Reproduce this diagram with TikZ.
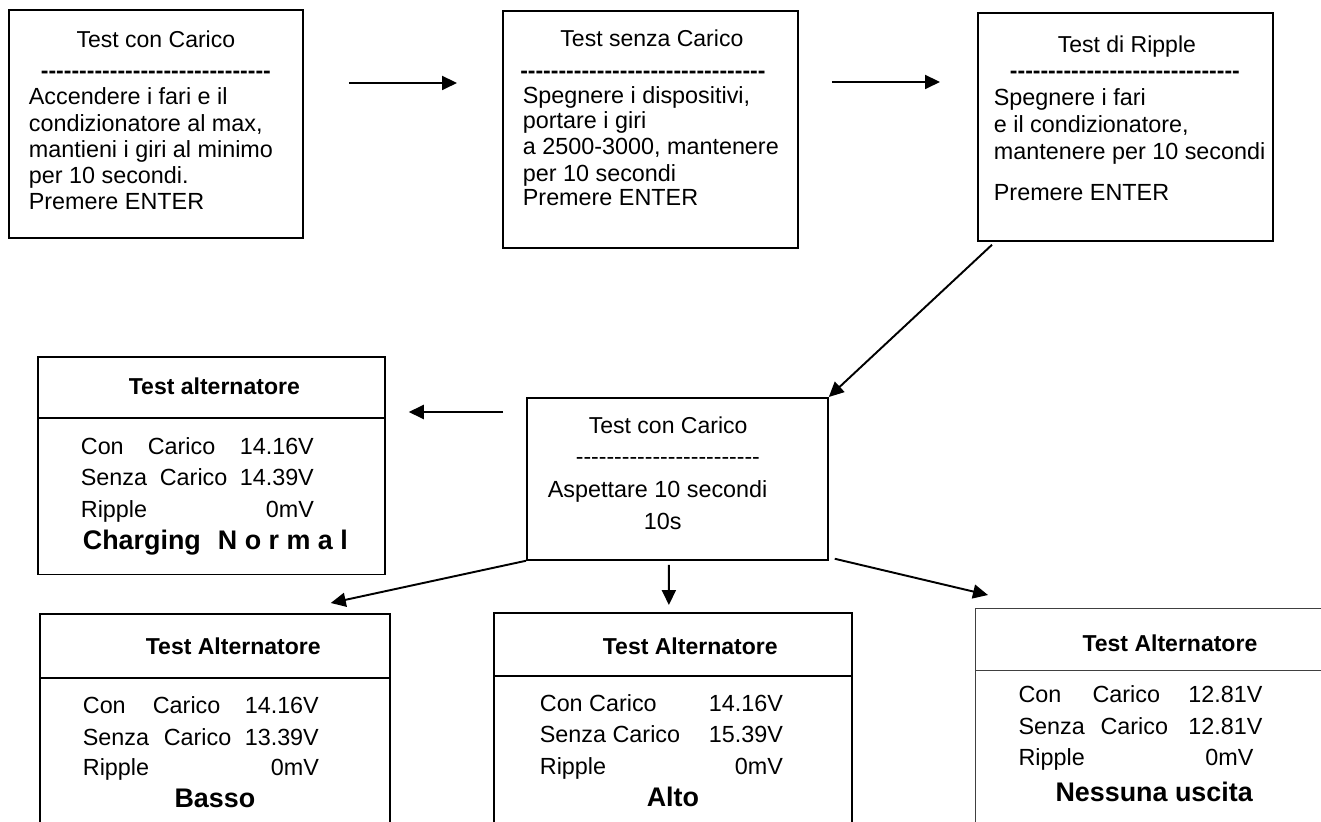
\documentclass[tikz,border=0pt]{standalone}
\usepackage{fontspec}
\setmainfont{Liberation Sans}
\usetikzlibrary{arrows.meta,shapes.multipart}
\newdimen\px \px=0.02cm
\newcommand\fbody{\fontsize{13.3}{15}\selectfont}
\newcommand\fhead{\fontsize{13.1}{15}\selectfont}
\newcommand\fbig{\fontsize{15.3}{18}\selectfont\bfseries}
\newcommand\dashes[1]{\foreach\dd in {1,...,#1}{-\kern0pt}}
\newcommand\txl[3]{\rlap{\hspace*{#1}\raisebox{-#2}[0pt][0pt]{#3}}\ignorespaces}
\newcommand\txc[3]{\rlap{\hspace*{#1}\raisebox{-#2}[0pt][0pt]{\makebox[0pt][c]{#3}}}\ignorespaces}
\newcommand\txr[3]{\rlap{\hspace*{#1}\raisebox{-#2}[0pt][0pt]{\llap{#3}}}\ignorespaces}
\newcommand\cardpart[3]{\makebox[#1][l]{\fbody\rule[-#2]{0pt}{#2}\ignorespaces#3}}
\tikzset{
  card/.style={draw, line width=1pt, inner sep=0pt, anchor=north west, font=\fbody},
  panel/.style={card, rectangle split, rectangle split parts=2},
  thinpanel/.style={panel, line width=0.6pt, draw=black!75},
  flow/.style={line width=1.1pt, -{Triangle[length=0.3cm,width=0.28cm]}},
}
\begin{document}
\begin{tikzpicture}[x=0.02cm,y=-0.02cm]
\path[use as bounding box] (0,0) rectangle (1321,821);
\clip (0,0) rectangle (1321,821);
% top row
\node[card] (carico) at (8,9) {\cardpart{294\px}{228\px}{%
  \txc{147\px}{38\px}{\fhead Test con Carico}
  \txc{147\px}{68.5\px}{\fhead\bfseries\dashes{30}}
  \txl{20\px}{95\px}{Accendere i fari e il}
  \txl{20\px}{122\px}{condizionatore al max,}
  \txl{20\px}{148\px}{mantieni i giri al minimo}
  \txl{20\px}{174\px}{per 10 secondi.}
  \txl{20\px}{200\px}{Premere ENTER}}};
\node[card] (senza) at (502,10) {\cardpart{295\px}{237\px}{%
  \txc{149\px}{36\px}{\fhead Test senza Carico}
  \txc{140\px}{67.5\px}{\fhead\bfseries\dashes{32}}
  \txl{20\px}{93\px}{Spegnere i dispositivi,}
  \txl{20\px}{118\px}{portare i giri}
  \txl{20\px}{144\px}{a 2500-3000, mantenere}
  \txl{20\px}{171\px}{per 10 secondi}
  \txl{20\px}{195\px}{Premere ENTER}}};
\node[card] (ripple) at (977,12) {\cardpart{295\px}{228\px}{%
  \txc{149\px}{40\px}{\fhead Test di Ripple}
  \txc{147\px}{66\px}{\fhead\bfseries\dashes{30}}
  \txl{16\px}{93\px}{Spegnere i fari}
  \txl{16\px}{120\px}{e il condizionatore,}
  \txl{16\px}{147\px}{mantenere per 10 secondi}
  \txl{16\px}{188\px}{Premere ENTER}}};
% waiting step
\node[card] (wait) at (526,397) {\cardpart{301\px}{162\px}{%
  \txl{62\px}{36\px}{\fhead Test con Carico}
  \txl{49\px}{67\px}{\fhead\dashes{24}}
  \txl{21\px}{100\px}{Aspettare 10 secondi}
  \txl{117\px}{132\px}{10s}}};
% results
\node[panel] (normal) at (37,356) {\cardpart{347\px}{59\px}{%
  \txl{91\px}{37\px}{\fhead\bfseries Test alternatore}}%
  \nodepart{two}\cardpart{347\px}{155\px}{%
  \txl{43\px}{35.5\px}{Con}\txl{110\px}{35.5\px}{Carico}\txr{276\px}{35.5\px}{14.16V}
  \txl{43\px}{67.3\px}{Senza}\txl{122\px}{67.3\px}{Carico}\txr{276\px}{67.3\px}{14.39V}
  \txl{43\px}{99\px}{Ripple}\txr{276\px}{99\px}{0mV}
  \txl{45\px}{131\px}{\fbig Charging}\txl{180\px}{131\px}{\fbig N o r m a l}}};
\node[panel] (basso) at (39,613) {\cardpart{350\px}{62\px}{%
  \txl{106\px}{40\px}{\fhead\bfseries Test Alternatore}}%
  \nodepart{two}\cardpart{350\px}{175\px}{%
  \txl{43\px}{35\px}{Con}\txl{113\px}{35\px}{Carico}\txr{279\px}{35\px}{14.16V}
  \txl{43\px}{66.5\px}{Senza}\txl{124\px}{66.5\px}{Carico}\txr{279\px}{66.5\px}{13.39V}
  \txl{43\px}{97\px}{Ripple}\txr{279\px}{97\px}{0mV}
  \txc{175\px}{129\px}{\fbig Basso}}};
\node[panel] (alto) at (493,612) {\cardpart{358\px}{61\px}{%
  \txl{109\px}{40.7\px}{\fhead\bfseries Test Alternatore}}%
  \nodepart{two}\cardpart{358\px}{175\px}{%
  \txl{46\px}{34.5\px}{Con Carico}\txr{289\px}{34.5\px}{14.16V}
  \txl{46\px}{66\px}{Senza Carico}\txr{289\px}{66\px}{15.39V}
  \txl{46\px}{97.7\px}{Ripple}\txr{289\px}{97.7\px}{0mV}
  \txc{179\px}{130\px}{\fbig Alto}}};
\node[thinpanel] (nessuna) at (975,608) {\cardpart{360\px}{61\px}{%
  \txl{107\px}{42\px}{\fhead\bfseries Test Alternatore}}%
  \nodepart{two}\cardpart{360\px}{175\px}{%
  \txl{43\px}{31.5\px}{Con}\txl{117\px}{31.5\px}{Carico}\txr{287\px}{31.5\px}{12.81V}
  \txl{43\px}{63.3\px}{Senza}\txl{125\px}{63.3\px}{Carico}\txr{287\px}{63.3\px}{12.81V}
  \txl{43\px}{94\px}{Ripple}\txr{278\px}{94\px}{0mV}
  \txl{80\px}{130\px}{\fbig Nessuna uscita}}};
% connectors
\coordinate (ab) at ([yshift=-1.48cm]carico.north east);
\draw[flow, shorten <=0.9cm, shorten >=0.9cm] (ab) -- (ab -| senza.west);
\coordinate (bc) at ([yshift=-1.44cm]senza.north east);
\draw[flow, shorten <=0.66cm, shorten >=0.74cm] (bc) -- (bc -| ripple.west);
\draw[flow] ([xshift=0.3cm,yshift=-0.06cm]ripple.south west) -- (wait.north east);
\coordinate (de) at ([yshift=-0.3cm]wait.north west);
\draw[flow, shorten <=0.46cm, shorten >=0.46cm] (de) -- (de -| normal.east);
\draw[flow] (wait.south west) -- ([xshift=-1.2cm,yshift=0.2cm]basso.north east);
\draw[flow, shorten <=0.08cm, shorten >=0.14cm] ([xshift=-0.17cm]wait.south) -- ([xshift=-0.08cm]alto.north);
\draw[flow] ([xshift=0.12cm,yshift=0.04cm]wait.south east) -- ([xshift=0.26cm,yshift=0.26cm]nessuna.north west);
\end{tikzpicture}
\end{document}
